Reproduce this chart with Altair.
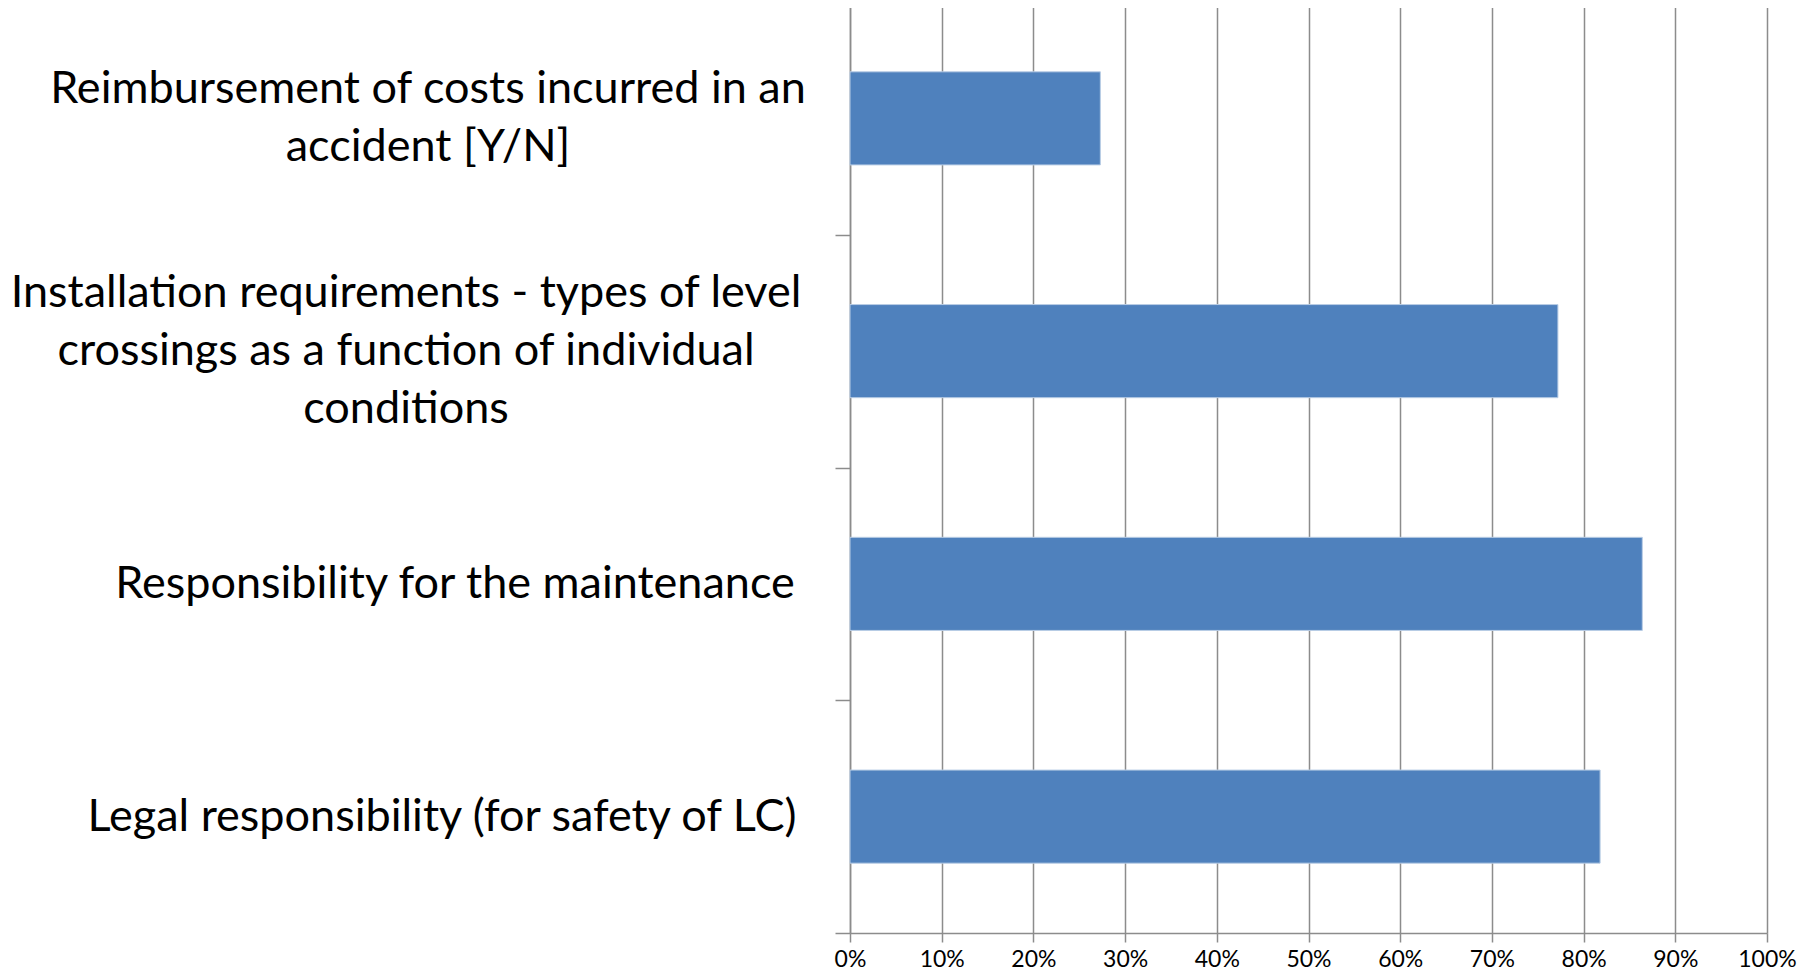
import altair as alt
import pandas as pd

categories = [
    "Reimbursement of costs incurred in an accident [Y/N]",
    "Installation requirements - types of level crossings as a function of individual conditions",
    "Responsibility for the maintenance",
    "Legal responsibility (for safety of LC)",
]
label_lines = [
    ["Reimbursement of costs incurred in an", "accident [Y/N]"],
    ["Installation requirements - types of level", "crossings as a function of individual", "conditions"],
    ["Responsibility for the maintenance"],
    ["Legal responsibility (for safety of LC)"],
]
shares = [0.273, 0.772, 0.864, 0.818]
x_ticks = [0, 0.1, 0.2, 0.3, 0.4, 0.5, 0.6, 0.7, 0.8, 0.9, 1.0]

# label block centres (px from plot left) - styling only
label_center = [-422, -444, -395, -408]
LINE_H = 58

FONT = "Lato"
GRAY = "#8c8c8c"

df = pd.DataFrame({"cat": categories, "share": shares})

yscale = alt.Scale(domain=categories, paddingInner=0, paddingOuter=0)
xscale = alt.Scale(domain=[0, 1])

bars = alt.Chart(df).mark_bar(
    color="#4F81BD", stroke="#b9cde5", strokeWidth=1, height={"band": 0.4}
).encode(
    x=alt.X("share:Q", scale=xscale,
            axis=alt.Axis(values=x_ticks, format=".0%", title=None, grid=True,
                          gridColor=GRAY, gridWidth=1.5, domainColor=GRAY, domainWidth=1.5,
                          tickColor=GRAY, tickWidth=1.5, tickSize=9,
                          labelFont=FONT, labelFontSize=23, labelColor="black",
                          labelPadding=6, labelFlush=False)),
    y=alt.Y("cat:N", scale=yscale,
            axis=alt.Axis(labels=False, title=None, tickBand="extent", ticks=True,
                          tickSize=15, tickColor=GRAY, tickWidth=1.5,
                          domainColor=GRAY, domainWidth=1.5, grid=False)),
)

layers = [bars]
for i, cat in enumerate(categories):
    n = len(label_lines[i])
    t = alt.Chart(df).transform_filter(alt.datum.cat == cat).mark_text(
        text=label_lines[i], align="center", baseline="middle",
        font=FONT, fontSize=45, lineHeight=LINE_H, color="black",
        dy=-(n - 1) * LINE_H / 2,
    ).encode(
        y=alt.Y("cat:N", scale=yscale),
        x=alt.value(label_center[i]),
    )
    layers.append(t)

chart = alt.layer(*layers).properties(
    width=917, height=931,
    autosize=alt.AutoSizeParams(type="none"),
    padding={"left": 842, "top": -6, "right": 31, "bottom": 39},
).configure_view(stroke=None).configure(background="white")

chart.save("out.html", embed_options={"renderer": "svg", "actions": False})
